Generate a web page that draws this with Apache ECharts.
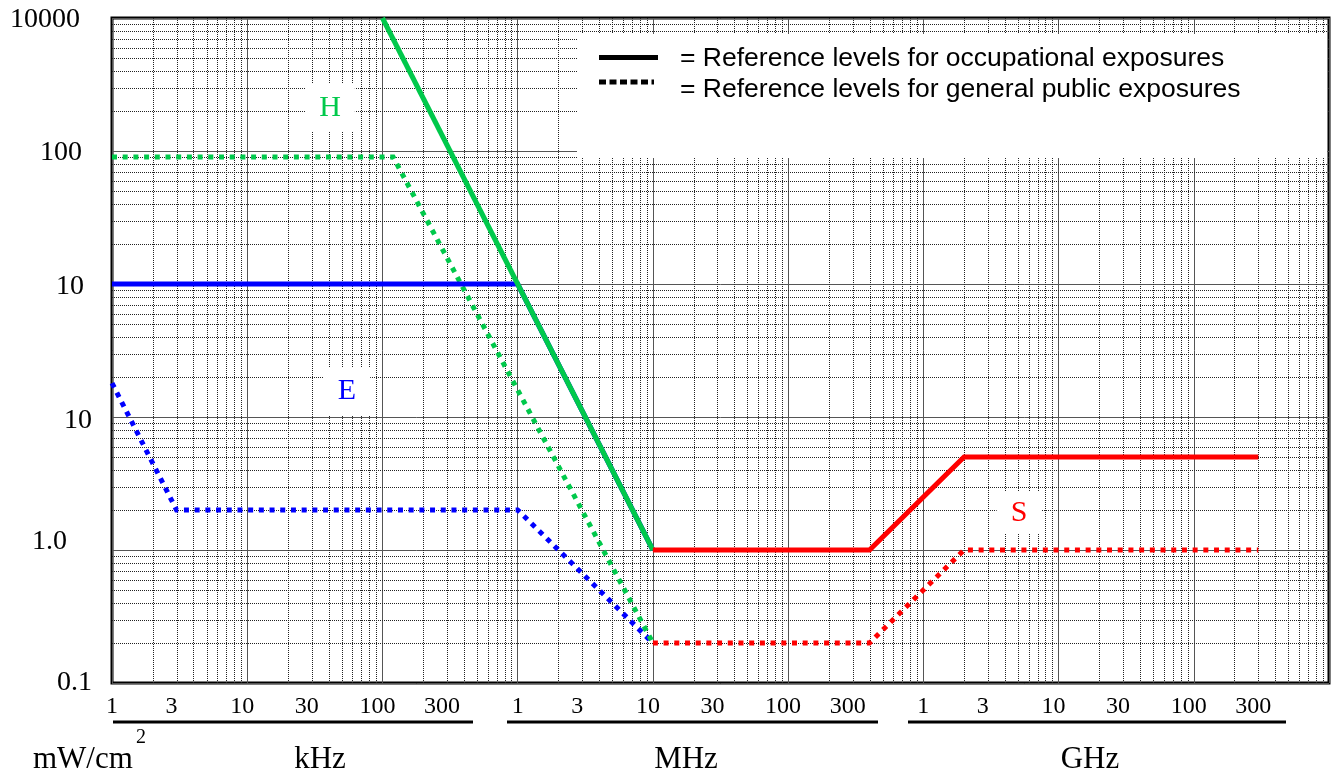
<!DOCTYPE html>
<html><head><meta charset="utf-8">
<script src="https://cdn.jsdelivr.net/npm/echarts@6/dist/echarts.min.js"></script>
<style>html,body{margin:0;padding:0;background:#fff}#c{width:1333px;height:776px}</style>
</head><body><div id="c"></div>
<script>
// Frequencies in kHz, power densities in mW/cm2
const eOccFreq = [1, 1000, 10000];
const eOccVal  = [100, 100, 1];
const hOccFreq = [100, 10000];
const hOccVal  = [10000, 1];
const sOccFreq = [10000, 400000, 2000000, 300000000];
const sOccVal  = [1, 1, 5, 5];
const ePubFreq = [1, 3, 1000, 10000];
const ePubVal  = [18, 2, 2, 0.2];
const hPubFreq = [1, 120, 10000];
const hPubVal  = [900, 900, 0.2];
const sPubFreq = [10000, 400000, 2000000, 300000000];
const sPubVal  = [0.2, 0.2, 1, 1];

const xTickValues = [1,3,10,30,100,300, 1e3,3e3,1e4,3e4,1e5,3e5, 1e6,3e6,1e7,3e7,1e8,3e8];
const xTickLabels = ['1','3','10','30','100','300','1','3','10','30','100','300','1','3','10','30','100','300'];
const yTickValues = [0.1, 1, 10, 100, 1000, 10000];
const yTickLabels = ['0.1','1.0','10','10','100','10000'];
const unitLabels  = ['kHz','MHz','GHz'];
const fieldLabels = ['H','E','S'];
const legendLabels = ['= Reference levels for occupational exposures','= Reference levels for general public exposures'];

const L = Math.log10;
const GREEN = '#00c94b', BLUE = '#0000ff', RED = '#ff0000';
const DOT = [5, 5.7];

function pts(f, v){ return f.map((x,i)=>[L(x), L(v[i])]); }

// minor grid positions (2..9 within each decade)
const minorGrid = [];
for (let d=0; d<9; d++) for (let k=2; k<=9; k++) minorGrid.push([d+L(k), 0]);
for (let d=-1; d<4; d++) for (let k=2; k<=9; k++) minorGrid.push([d+L(k), 1]);

function lineSeries(name, f, v, color, dash){
  return {name, type:'line', data: pts(f,v), symbol:'none', animation:false, silent:true,
    lineStyle:{color, width:5, type: dash ? DOT : 'solid', cap:'butt', join:'miter'}, z:3};
}

const xLog = xTickValues.map(L);
const yLog = yTickValues.map(L);
const serif = 'Liberation Serif';

const chart = echarts.init(document.getElementById('c'), null, {renderer:'canvas'});
chart.setOption({
  backgroundColor:'#fff',
  animation:false,
  grid:{left:112, right:4, top:18, bottom:93, show:true, borderColor:'#000', borderWidth:3, backgroundColor:'transparent', outerBoundsMode:'none'},
  xAxis:{type:'value', min:0, max:9, interval:1,
    axisLine:{show:false}, axisTick:{show:false},
    splitLine:{show:true, lineStyle:{color:'#555', width:1}},
    axisLabel:{customValues:xLog, margin:12, color:'#000',
      formatter:(v)=>{ const i = xLog.findIndex(p=>Math.abs(p-v)<1e-6); if(i<0) return ''; return (xTickLabels[i]==='1'?'{o|':'{s|')+xTickLabels[i]+'}'; },
      rich:{o:{fontFamily:serif,fontSize:24,color:'#000',lineHeight:24},
            s:{fontFamily:serif,fontSize:24,color:'#000',lineHeight:24,padding:[0,10,0,0]}}}},
  yAxis:{type:'value', min:-1, max:4, interval:1,
    axisLine:{show:false}, axisTick:{show:false},
    splitLine:{show:true, lineStyle:{color:'#555', width:1}},
    axisLabel:{customValues:yLog, margin:20, color:'#000',
      formatter:(v)=>{ const i = yLog.findIndex(p=>Math.abs(p-v)<1e-6); if(i<0) return ''; return '{y'+i+'|'+yTickLabels[i]+'}'; },
      rich:{
        y0:{fontFamily:serif,fontSize:28,color:'#000',padding:[0,0,0,0]},
        y1:{fontFamily:serif,fontSize:28,color:'#000',padding:[0,25,16,0]},
        y2:{fontFamily:serif,fontSize:28,color:'#000',padding:[8,0,0,0]},
        y3:{fontFamily:serif,fontSize:28,color:'#000',padding:[6,8,0,0]},
        y4:{fontFamily:serif,fontSize:28,color:'#000',padding:[4,10,0,0]},
        y5:{fontFamily:serif,fontSize:28,color:'#000',padding:[4,12,0,0]}
      }}},
  series:[
    {type:'custom', data:minorGrid, silent:true, animation:false, z:1,
      renderItem:(params, api)=>{
        const v = api.value(0), dir = api.value(1), cs = params.coordSys;
        if (dir===0){
          const x = Math.round(api.coord([v,0])[0])+0.5;
          return {type:'line', shape:{x1:x,y1:cs.y,x2:x,y2:cs.y+cs.height}, style:{stroke:'#222',lineWidth:1,lineDash:[1,1]}, silent:true};
        } else {
          const y = Math.round(api.coord([0,v])[1])+0.5;
          return {type:'line', shape:{x1:cs.x,y1:y,x2:cs.x+cs.width,y2:y}, style:{stroke:'#222',lineWidth:1,lineDash:[1,1]}, silent:true};
        }
      }},
    lineSeries('E public', ePubFreq, ePubVal, BLUE, true),
    lineSeries('H public', hPubFreq, hPubVal, GREEN, true),
    lineSeries('S public', sPubFreq, sPubVal, RED, true),
    lineSeries('E occupational', eOccFreq, eOccVal, BLUE, false),
    lineSeries('H occupational', hOccFreq, hOccVal, GREEN, false),
    lineSeries('S occupational', sOccFreq, sOccVal, RED, false)
  ],
  graphic:[
    {type:'rect', shape:{x:577,y:34,width:750,height:124}, style:{fill:'#fff'}, z:50},
    {type:'line', shape:{x1:599,y1:57.5,x2:658,y2:57.5}, style:{stroke:'#000',lineWidth:5}, z:51},
    {type:'line', shape:{x1:599,y1:82,x2:654,y2:82}, style:{stroke:'#000',lineWidth:5,lineDash:[7,3.5]}, z:51},
    {type:'text', x:680, y:59, style:{text:legendLabels[0], fill:'#000', font:'26.5px "Liberation Sans"', verticalAlign:'middle'}, z:51},
    {type:'text', x:680, y:90, style:{text:legendLabels[1], fill:'#000', font:'26.5px "Liberation Sans"', verticalAlign:'middle'}, z:51},
    {type:'text', x:330, y:108, style:{text:fieldLabels[0], fill:GREEN, font:'30px "Liberation Serif"', align:'center', verticalAlign:'middle', backgroundColor:'#fff', padding:[9,14]}, z:50},
    {type:'text', x:347, y:391, style:{text:fieldLabels[1], fill:BLUE, font:'30px "Liberation Serif"', align:'center', verticalAlign:'middle', backgroundColor:'#fff', padding:[9,14]}, z:50},
    {type:'text', x:1019, y:513, style:{text:fieldLabels[2], fill:RED, font:'30px "Liberation Serif"', align:'center', verticalAlign:'middle', backgroundColor:'#fff', padding:[6,14]}, z:50},
    {type:'line', shape:{x1:113,y1:722,x2:473,y2:722}, style:{stroke:'#000',lineWidth:3}},
    {type:'line', shape:{x1:507,y1:722,x2:878,y2:722}, style:{stroke:'#000',lineWidth:3}},
    {type:'line', shape:{x1:908,y1:722,x2:1286,y2:722}, style:{stroke:'#000',lineWidth:3}},
    {type:'text', x:33, y:760, style:{text:'mW/cm', fill:'#000', font:'31px "Liberation Serif"', verticalAlign:'middle'}},
    {type:'text', x:136, y:738, style:{text:'2', fill:'#000', font:'20px "Liberation Serif"', verticalAlign:'middle'}},
    {type:'text', x:320, y:760, style:{text:unitLabels[0], fill:'#000', font:'31px "Liberation Serif"', align:'center', verticalAlign:'middle'}},
    {type:'text', x:686, y:760, style:{text:unitLabels[1], fill:'#000', font:'31px "Liberation Serif"', align:'center', verticalAlign:'middle'}},
    {type:'text', x:1090, y:760, style:{text:unitLabels[2], fill:'#000', font:'31px "Liberation Serif"', align:'center', verticalAlign:'middle'}}
  ]
});
</script></body></html>
